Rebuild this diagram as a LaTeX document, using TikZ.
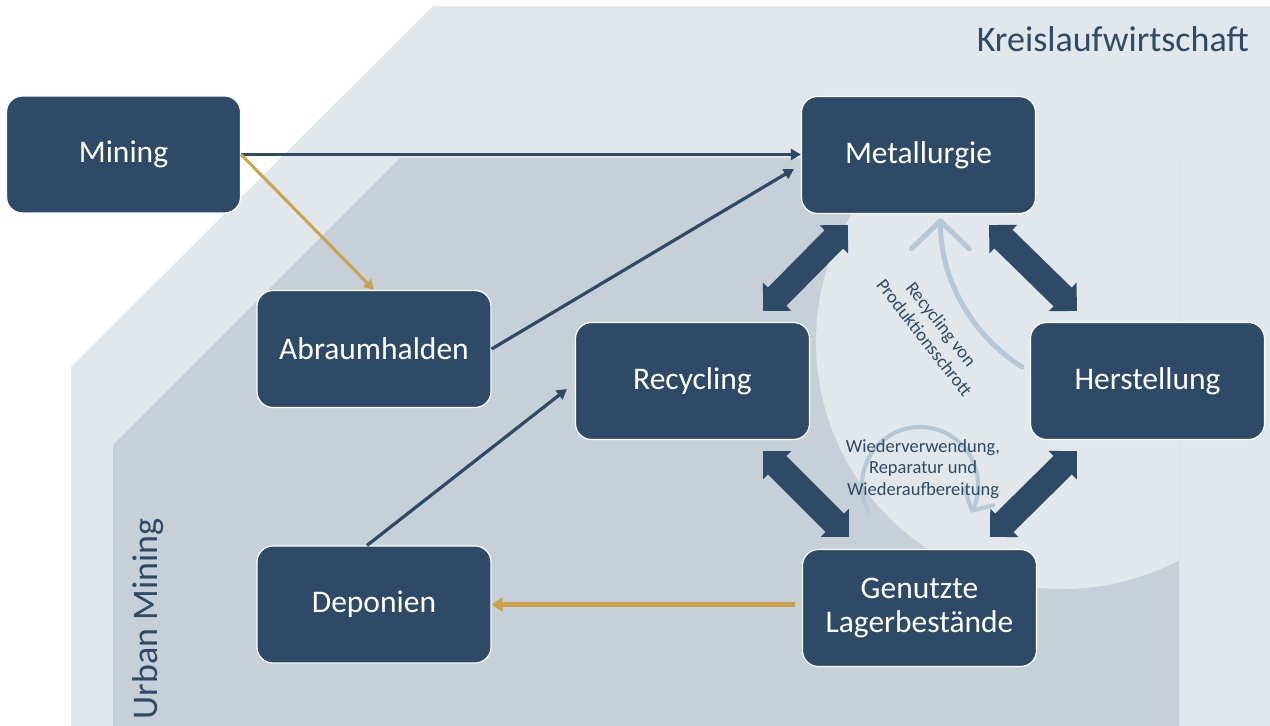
\documentclass[tikz,border=0pt]{standalone}
\usepackage{fontspec}
\setmainfont{Carlito}
\usetikzlibrary{arrows.meta,calc}
\definecolor{dkblue}{HTML}{2E4A66}
\definecolor{bglight}{HTML}{E1E7EA}
\definecolor{bgdark}{HTML}{C7CFD8}
\definecolor{goldc}{HTML}{C9A350}
\definecolor{lblue}{HTML}{B5C8D7}
\newcommand{\bigarr}[2]{%
 \fill[dkblue] (#1)
 -- ($($(#1)!20pt!(#2)$)!20pt!90:(#2)$)
 -- ($($(#1)!20pt!(#2)$)!13pt!90:(#2)$)
 -- ($($(#2)!20pt!(#1)$)!13pt!-90:(#1)$)
 -- ($($(#2)!20pt!(#1)$)!20pt!-90:(#1)$)
 -- (#2)
 -- ($($(#2)!20pt!(#1)$)!20pt!90:(#1)$)
 -- ($($(#2)!20pt!(#1)$)!13pt!90:(#1)$)
 -- ($($(#1)!20pt!(#2)$)!13pt!-90:(#2)$)
 -- ($($(#1)!20pt!(#2)$)!20pt!-90:(#2)$)
 -- cycle;}
\begin{document}
\begin{tikzpicture}[x=1pt,y=-1pt,
  box/.style={draw=white, line width=1.2pt, fill=dkblue, rounded corners=16pt,
    minimum width=234pt, minimum height=117pt, text=white, inner sep=0pt,
    align=center, font=\fontsize{31.5}{34}\selectfont},
  thinarr/.style={draw=dkblue, line width=3.2pt, -{Triangle[length=10pt,width=11pt]}},
  goldarr/.style={draw=goldc, line width=3pt, -{Triangle[length=10pt,width=11pt]}},
  goldthick/.style={draw=goldc, line width=5pt, -{Triangle[length=11pt,width=14pt]}},
  looparr/.style={draw=lblue, line width=5pt, line cap=round},
  small/.style={text=dkblue, align=center, font=\fontsize{18.5}{21.5}\selectfont, inner sep=0pt}]
\useasboundingbox (0,0) rectangle (1270,726);
\fill[white] (0,0) rectangle (1270,726);
% backgrounds
\fill[bglight] (71,726) -- (71,367) -- (433,6) -- (1270,6) -- (1270,726) -- cycle;
\fill[bgdark] (113,726) -- (113,445) -- (400,158) -- (1179,158) -- (1179,726) -- cycle;
\begin{scope}
\clip (113,726) -- (113,445) -- (400,158) -- (1179,158) -- (1179,726) -- cycle;
\fill[bglight] (1063,342) circle (247pt);
\end{scope}
% titles
\node[anchor=base east, text=dkblue, font=\fontsize{36}{40}\selectfont, inner sep=0pt] (kw) at (1249,51) {Kreislaufwirtschaft};
\node[rotate=90, anchor=base, text=dkblue, font=\fontsize{36}{40}\selectfont, inner sep=0pt] (um) at (157,619) {Urban Mining};
% light blue curved arrows
\draw[looparr, -{Straight Barb[length=28pt,width=58pt,round]}] (1022,367) arc[start angle=237.6, end angle=180, radius=176pt];
\draw[looparr, line width=4pt, -{Straight Barb[length=15pt,width=32pt,round]}] (868.3,511.3) arc[start angle=207, end angle=-28.4, radius=58pt];
% boxes
\node[box] (min) at (123.5,154.5) {Mining};
\node[box] (abr) at (374,349) {Abraumhalden};
\node[box] (met) at (918.5,155) {Metallurgie};
\node[box] (rec) at (692.5,381) {Recycling};
\node[box] (her) at (1147.5,381) {Herstellung};
\node[box] (dep) at (374,604.5) {Deponien};
\node[box] (gen) at (919.5,608) {Genutzte\\Lagerbestände};
% small labels
\node[small, rotate=-52] (rvp) at (933,331) {Recycling von\\Produktionsschrott};
\node[small] (wrw) at (923,469) {Wiederverwendung,\\Reparatur und\\Wiederaufbereitung};
% big double arrows
\coordinate (a1s) at ([xshift=-47pt,yshift=11pt]rec.north east);
\coordinate (a1e) at ([xshift=47pt,yshift=-11pt]met.south west);
\coordinate (a2s) at ([xshift=47pt,yshift=11pt]her.north west);
\coordinate (a2e) at ([xshift=-47pt,yshift=-11pt]met.south east);
\coordinate (a3s) at ([xshift=-47pt,yshift=-11pt]rec.south east);
\coordinate (a3e) at ([xshift=47pt,yshift=12pt]gen.north west);
\coordinate (a4s) at ([xshift=47pt,yshift=-11pt]her.south west);
\coordinate (a4e) at ([xshift=-47pt,yshift=12pt]gen.north east);
\bigarr{a1s}{a1e}
\bigarr{a2s}{a2e}
\bigarr{a3s}{a3e}
\bigarr{a4s}{a4e}
% thin connectors
\coordinate (c1) at ([xshift=-7pt,yshift=-14pt]met.west);
\coordinate (c2) at ([xshift=-8pt,yshift=-8pt]rec.west);
\coordinate (c3) at ([xshift=-7pt]dep.north);
\coordinate (c4) at ([xshift=-7pt]gen.west |- dep.east);
\draw[thinarr] (min.east) -- (met.west |- min.east);
\draw[thinarr] (abr.east) -- (c1);
\draw[thinarr] (c3) -- (c2);
\draw[goldarr] (min.east) -- (abr.north);
\draw[goldthick] (c4) -- (dep.east);
\end{tikzpicture}
\end{document}
